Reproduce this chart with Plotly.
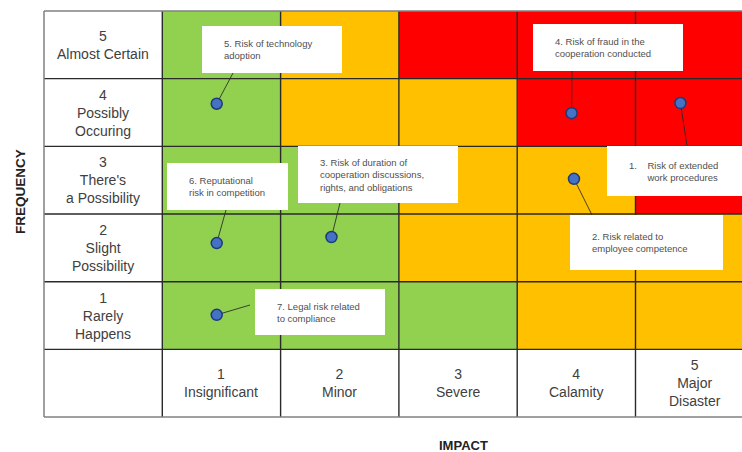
import plotly.graph_objects as go

# ---------------- data ----------------
impact_levels = [1, 2, 3, 4, 5]
freq_levels = [1, 2, 3, 4, 5]
impact_labels = ["1<br>Insignificant", "2<br>Minor", "3<br>Severe", "4<br>Calamity", "5<br>Major<br>Disaster"]
freq_labels = ["1<br>Rarely<br>Happens", "2<br>Slight<br>Possibility", "3<br>There's<br>a Possibility",
               "4<br>Possibly<br>Occuring", "5<br>Almost Certain"]
# risk level per cell (0 = low/green, 1 = medium/orange, 2 = high/red); rows = frequency 1..5
risk_matrix = [
    [0, 0, 0, 1, 1],
    [0, 0, 1, 1, 1],
    [0, 0, 1, 1, 2],
    [0, 1, 1, 2, 2],
    [0, 1, 2, 2, 2],
]
risk_names = [
    "1.&nbsp;&nbsp;&nbsp;&nbsp;Risk of extended<br>&nbsp;&nbsp;&nbsp;&nbsp;&nbsp;&nbsp;&nbsp;work procedures",
    "2. Risk related to<br>employee competence",
    "3. Risk of duration of<br>cooperation discussions,<br>rights, and obligations",
    "4. Risk of fraud in the<br>cooperation conducted",
    "5. Risk of technology<br>adoption",
    "6. Reputational<br>risk in competition",
    "7. Legal risk related<br>to compliance",
]
# plotted position of each risk (impact, frequency) inside its cell
risk_impact = [4.88, 3.98, 1.93, 3.96, 0.96, 0.96, 0.96]
risk_freq = [4.14, 3.02, 2.16, 3.99, 4.13, 2.07, 1.01]

# ---------------- layout helpers (pixels) ----------------
W, H = 742, 452
LEFT, TOP = 44, 11
CELL_W, CELL_H = 118.3, 67.67

def px2x(px):
    return -0.5 + (px - LEFT) / CELL_W

def py2y(py):
    return 5.5 - (py - TOP) / CELL_H

# label boxes (x0, x1, y0, y1) in pixels and connector anchor points
boxes_px = [
    (607, 770, 146, 196),
    (570, 723, 215, 270),
    (298, 458, 146, 203),
    (533, 683, 24, 71),
    (202, 342, 26, 73),
    (167, 288, 163, 210),
    (255, 385, 289, 335),
]
anchors_px = [(687, 146), (592, 215), (340, 203), (572, 71), (233, 73), (226, 210), (250, 305)]

GREEN, ORANGE, RED = "#92D050", "#FFC000", "#FF0000"
FONT = "Liberation Sans, Arial, sans-serif"

fig = go.Figure()

fig.add_trace(go.Heatmap(
    x=impact_levels, y=freq_levels, z=risk_matrix,
    zmin=0, zmax=2,
    colorscale=[[0, GREEN], [0.333, GREEN], [0.333, ORANGE], [0.667, ORANGE], [0.667, RED], [1, RED]],
    showscale=False, hoverinfo="skip",
))

# connectors
cx, cy = [], []
for (ax_, ay_), xi, yi in zip(anchors_px, risk_impact, risk_freq):
    cx += [px2x(ax_), xi, None]
    cy += [py2y(ay_), yi, None]
fig.add_trace(go.Scatter(x=cx, y=cy, mode="lines", line=dict(color="rgba(40,40,40,0.85)", width=1),
                         hoverinfo="skip", showlegend=False))

fig.add_trace(go.Scatter(
    x=risk_impact, y=risk_freq, mode="markers",
    marker=dict(size=11, color="#4472C4", line=dict(color="#1F3A78", width=1.5)),
    hoverinfo="skip", showlegend=False,
))

shapes = []
# grid lines
for k in range(1, 6):
    shapes.append(dict(type="line", x0=k - 0.5, x1=k - 0.5, y0=-0.5, y1=5.5,
                       line=dict(color="#2a2a2a", width=1.4), layer="above"))
for k in range(1, 6):
    shapes.append(dict(type="line", x0=-0.5, x1=5.6, y0=k - 0.5, y1=k - 0.5,
                       line=dict(color="#2a2a2a", width=1.4), layer="above"))
# outer border
shapes.append(dict(type="line", x0=-0.5, x1=-0.5, y0=-0.5, y1=5.5, line=dict(color="#808080", width=1.5), layer="above"))
shapes.append(dict(type="line", x0=-0.5, x1=5.6, y0=5.5, y1=5.5, line=dict(color="#808080", width=1.5), layer="above"))
shapes.append(dict(type="line", x0=-0.5, x1=5.6, y0=-0.5, y1=-0.5, line=dict(color="#808080", width=1.5), layer="above"))

annotations = []
# label boxes
for (x0, x1, y0, y1), name in zip(boxes_px, risk_names):
    shapes.append(dict(type="rect", x0=px2x(x0), x1=px2x(x1), y0=py2y(y0), y1=py2y(y1),
                       fillcolor="white", line=dict(width=0), layer="above"))
    annotations.append(dict(x=px2x(x0 + 20), y=py2y((y0 + y1) / 2), text=name, showarrow=False,
                            xanchor="left", yanchor="middle", align="left",
                            font=dict(family=FONT, size=9.5, color="#505050")))

for f, lab in zip(freq_levels, freq_labels):
    annotations.append(dict(x=0, y=f, text=lab, showarrow=False, xanchor="center", yanchor="middle",
                            font=dict(family=FONT, size=14, color="#404040")))
for i, lab in zip(impact_levels, impact_labels):
    annotations.append(dict(x=i, y=0, text=lab, showarrow=False, xanchor="center", yanchor="middle",
                            font=dict(family=FONT, size=14, color="#404040")))

annotations.append(dict(xref="paper", yref="paper", x=20 / W, y=1 - 192 / H, text="<b>FREQUENCY</b>",
                        textangle=-90, showarrow=False, xanchor="center", yanchor="middle",
                        font=dict(family=FONT, size=13.5, color="#222222")))
annotations.append(dict(xref="paper", yref="paper", x=463 / W, y=1 - 445 / H, text="<b>IMPACT</b>",
                        showarrow=False, xanchor="center", yanchor="middle",
                        font=dict(family=FONT, size=13, color="#222222")))

fig.update_layout(
    width=W, height=H, margin=dict(l=0, r=0, t=0, b=0),
    paper_bgcolor="white", plot_bgcolor="white",
    xaxis=dict(range=[px2x(0), px2x(W)], visible=False, fixedrange=True),
    yaxis=dict(range=[py2y(H), py2y(0)], visible=False, fixedrange=True),
    shapes=shapes, annotations=annotations, showlegend=False,
)

fig.write_html("out.html")
